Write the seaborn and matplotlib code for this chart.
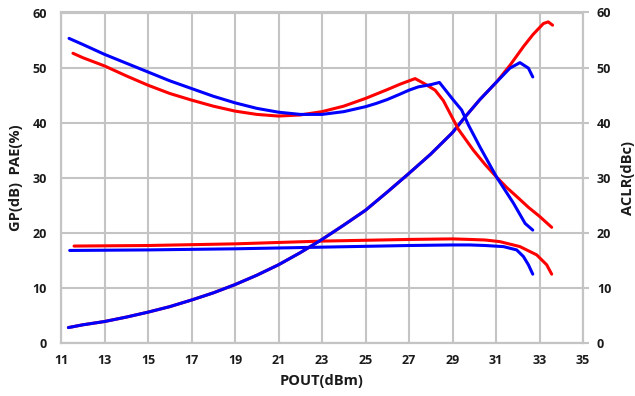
import matplotlib
matplotlib.use("Agg")
import matplotlib.pyplot as plt
import seaborn as sns
import pandas as pd

# ---- data ----
red_aclr_x = [11.55, 12, 13, 14, 15, 16, 17, 18, 19, 20, 21, 22, 23, 24, 25, 26, 26.6, 27.28, 27.7, 28.2, 28.58, 29.27, 29.96, 30.5, 31.03, 31.5, 31.95, 32.5, 33, 33.56]
red_aclr_y = [52.6, 51.8, 50.3, 48.5, 46.8, 45.3, 44.1, 43.0, 42.1, 41.5, 41.2, 41.4, 42.0, 43.0, 44.4, 46.0, 47.0, 48.0, 47.1, 45.9, 44.0, 38.8, 35.0, 32.4, 30.1, 28.2, 26.6, 24.6, 23.0, 21.0]

blue_aclr_x = [11.37, 12, 13, 14, 15, 16, 17, 18, 19, 20, 21, 22, 23, 24, 25, 25.5, 26, 26.6, 27, 27.43, 28, 28.4, 29.04, 29.42, 29.73, 30.26, 31.03, 31.8, 32.34, 32.69]
blue_aclr_y = [55.3, 54.2, 52.4, 50.8, 49.2, 47.6, 46.2, 44.8, 43.6, 42.6, 41.9, 41.5, 41.5, 42.0, 42.9, 43.5, 44.2, 45.2, 45.9, 46.5, 46.9, 47.3, 44.1, 42.3, 39.6, 35.6, 30.1, 25.4, 21.7, 20.5]

red_pae_x = [11.34, 12, 13, 14, 15, 16, 17, 18, 19, 20, 21, 22, 23, 24, 25, 26, 27, 28, 29, 29.57, 30.26, 31.03, 31.64, 32.26, 32.7, 33.18, 33.4, 33.6]
red_pae_y = [2.8, 3.3, 3.9, 4.7, 5.6, 6.6, 7.8, 9.1, 10.6, 12.3, 14.2, 16.4, 18.8, 21.4, 24.1, 27.4, 30.8, 34.3, 38.2, 41.0, 44.2, 47.4, 50.4, 53.8, 56.0, 58.0, 58.3, 57.7]

blue_pae_x = [11.34, 12, 13, 14, 15, 16, 17, 18, 19, 20, 21, 22, 23, 24, 25, 26, 27, 28, 29, 29.57, 30.26, 31.03, 31.64, 32.1, 32.49, 32.69]
blue_pae_y = [2.8, 3.3, 3.9, 4.7, 5.6, 6.6, 7.8, 9.1, 10.6, 12.3, 14.2, 16.4, 18.8, 21.4, 24.1, 27.4, 30.8, 34.3, 38.2, 41.0, 44.2, 47.4, 49.9, 50.9, 49.9, 48.3]

red_gain_x = [11.6, 15, 19, 23, 27, 29, 29.8, 30.5, 31.18, 32.1, 32.87, 33.33, 33.56]
red_gain_y = [17.6, 17.7, 18.0, 18.5, 18.8, 18.9, 18.8, 18.7, 18.4, 17.5, 16.0, 14.2, 12.5]

blue_gain_x = [11.4, 15, 19, 23, 27, 29, 29.8, 30.5, 31.34, 31.95, 32.26, 32.49, 32.69]
blue_gain_y = [16.8, 16.9, 17.1, 17.4, 17.7, 17.8, 17.8, 17.7, 17.5, 16.9, 15.7, 14.2, 12.5]

x_ticks = [11, 13, 15, 17, 19, 21, 23, 25, 27, 29, 31, 33, 35]
y_ticks = [0, 10, 20, 30, 40, 50, 60]

RED = "#ff0000"
BLUE = "#0000ff"

sns.set_style("white")
plt.rcParams["font.family"] = ["Open Sans", "DejaVu Sans"]
plt.rcParams["font.weight"] = "bold"

fig = plt.figure(figsize=(6.35, 3.96), dpi=100)
ax = fig.add_axes([61 / 635, 1 - 343 / 396, (583 - 61) / 635, (343 - 12.5) / 396])
ax2 = ax.twinx()

grid_c = "#c4c4c4"
for a in (ax, ax2):
    a.set_xlim(11, 35)
    a.set_ylim(0, 60)
    a.set_yticks(y_ticks)
    for s in a.spines.values():
        s.set_color(grid_c)
        s.set_linewidth(1.5)
ax.set_xticks(x_ticks)
ax.grid(True, color=grid_c, linewidth=1.5)
ax.set_axisbelow(True)
ax.spines["bottom"].set_color("#a8a8a8")

def draw(axis, xs, ys, c):
    df = pd.DataFrame({"x": xs, "y": ys})
    sns.lineplot(data=df, x="x", y="y", ax=axis, color=c, linewidth=2.2,
                 sort=False, estimator=None)

draw(ax, red_gain_x, red_gain_y, RED)
draw(ax, blue_gain_x, blue_gain_y, BLUE)
draw(ax, red_pae_x, red_pae_y, RED)
draw(ax, blue_pae_x, blue_pae_y, BLUE)
draw(ax2, red_aclr_x, red_aclr_y, RED)
draw(ax2, blue_aclr_x, blue_aclr_y, BLUE)

tick_font = dict(fontsize=9, fontweight="bold", color="#1a1a1a")
ax.set_xticklabels([str(v) for v in x_ticks], **tick_font)
ax.set_yticklabels([str(v) for v in y_ticks], **tick_font)
ax2.set_yticklabels([str(v) for v in y_ticks], **tick_font)
ax.tick_params(axis="x", length=3, color="#a8a8a8", pad=5)
ax.tick_params(axis="y", length=0, pad=10)
ax2.tick_params(axis="y", length=4, color=grid_c, pad=6, width=1.5)

lab = dict(fontsize=10.5, fontweight="bold", color="#1a1a1a")
ax.set_xlabel("POUT(dBm)", labelpad=5, **lab)
ax.set_ylabel("GP(dB)  PAE(%)", labelpad=7, **lab)
ax2.set_ylabel("ACLR(dBc)", labelpad=7, **lab)

fig.savefig("out.png", dpi=100)
